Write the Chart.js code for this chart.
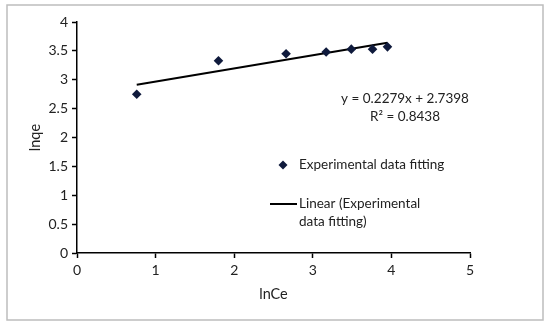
<!DOCTYPE html>
<html>
<head>
<meta charset="utf-8">
<script src="https://cdn.jsdelivr.net/npm/chart.js@4"></script>
<style>
  html, body { margin: 0; padding: 0; background: #fff; }
  #wrap { width: 550px; height: 327px; }
</style>
</head>
<body>
<div id="wrap"><canvas id="chart" width="550" height="327"></canvas></div>
<script>
// values
const lnCe = [0.76, 1.80, 2.66, 3.17, 3.49, 3.76, 3.95]
const lnqe = [2.75, 3.33, 3.45, 3.48, 3.53, 3.53, 3.57]

// fitted line end points (as drawn)
const fitX = [0.76, 3.95]
const fitY = [2.913, 3.640]

const xTicks = [0, 1, 2, 3, 4, 5]
const yTicks = [0, 0.5, 1, 1.5, 2, 2.5, 3, 3.5, 4]

const equation = 'y = 0.2279x + 2.7398'
const rSquared = 'R² = 0.8438'
const pointLabel = 'Experimental data fitting'
const lineLabel = ['Linear (Experimental', 'data fitting)']

const FONT = 'Lato, "Open Sans", sans-serif'
const NAVY = '#0f1a3c'

const toXY = (xs, ys) => xs.map((x, i) => ({ x: x, y: ys[i] }))

// frame, equation and the in-plot legend
const extras = {
  id: 'extras',
  afterDraw(chart) {
    const ctx = chart.ctx
    ctx.save()
    ctx.strokeStyle = '#bdbdbd'
    ctx.lineWidth = 1.5
    ctx.strokeRect(7, 5, 536, 315)

    ctx.fillStyle = '#222'
    ctx.font = '13.5px ' + FONT
    ctx.textBaseline = 'middle'
    ctx.textAlign = 'center'
    ctx.fillText(equation, 405, 99)
    ctx.fillText(rSquared, 405, 117)

    // legend: marker
    ctx.fillStyle = NAVY
    ctx.beginPath()
    ctx.moveTo(283, 160.5)
    ctx.lineTo(287.5, 165)
    ctx.lineTo(283, 169.5)
    ctx.lineTo(278.5, 165)
    ctx.closePath()
    ctx.fill()
    // legend: line
    ctx.strokeStyle = '#000'
    ctx.lineWidth = 2
    ctx.beginPath()
    ctx.moveTo(270, 204)
    ctx.lineTo(297, 204)
    ctx.stroke()

    ctx.fillStyle = '#222'
    ctx.textAlign = 'left'
    ctx.fillText(pointLabel, 299, 165)
    ctx.fillText(lineLabel[0], 299, 204)
    ctx.fillText(lineLabel[1], 299, 222)
    ctx.restore()
  }
}

const axisCommon = {
  type: 'linear',
  border: { display: true, color: '#000', width: 1.5 },
  grid: { drawOnChartArea: false, drawTicks: true, tickLength: 5, tickColor: '#000', tickWidth: 1.5 },
  ticks: { color: '#222', font: { family: FONT, size: 14 }, padding: 4, callback: v => String(v) }
}

new Chart(document.getElementById('chart'), {
  type: 'scatter',
  data: {
    datasets: [
      {
        label: pointLabel,
        data: toXY(lnCe, lnqe),
        pointStyle: 'rectRot',
        radius: 4.8,
        backgroundColor: NAVY,
        borderColor: NAVY,
        borderWidth: 0
      },
      {
        label: lineLabel.join(' '),
        type: 'line',
        data: toXY(fitX, fitY),
        borderColor: '#000',
        borderWidth: 2,
        pointRadius: 0,
        fill: false
      }
    ]
  },
  options: {
    responsive: false,
    animation: false,
    layout: { padding: { left: 0, top: 22, right: 80, bottom: 0 } },
    plugins: { legend: { display: false }, tooltip: { enabled: false } },
    scales: {
      x: Object.assign({}, axisCommon, {
        min: 0, max: 5,
        afterBuildTicks: s => { s.ticks = xTicks.map(v => ({ value: v })) },
        afterFit: s => { s.height = 74 },
        title: { display: true, text: 'lnCe', color: '#222', font: { family: FONT, size: 14.5 }, padding: { top: 8, bottom: 24 } }
      }),
      y: Object.assign({}, axisCommon, {
        min: 0, max: 4,
        afterBuildTicks: s => { s.ticks = yTicks.map(v => ({ value: v })) },
        afterFit: s => { s.width = 77 },
        title: { display: true, text: 'lnqe', color: '#222', font: { family: FONT, size: 14.5 }, padding: { top: 27 } }
      })
    }
  },
  plugins: [extras]
})
</script>
</body>
</html>
